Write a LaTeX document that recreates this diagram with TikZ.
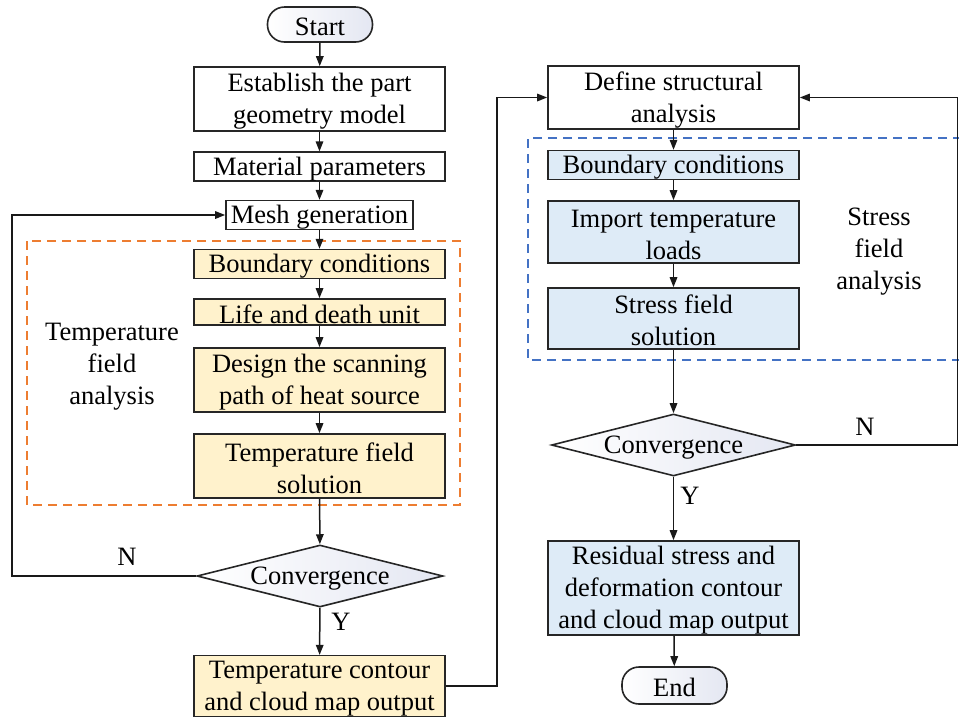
\documentclass[tikz,border=0pt]{standalone}
\usepackage{fontspec}
\setmainfont{Liberation Serif}
\usetikzlibrary{shapes.geometric,arrows.meta}
\definecolor{yel}{RGB}{255,242,204}
\definecolor{blu}{RGB}{222,235,247}
\definecolor{ora}{RGB}{237,125,49}
\definecolor{bdash}{RGB}{68,114,196}
\definecolor{term}{RGB}{228,231,242}
\newcommand{\fstrut}{\rule{0pt}{23pt}}
\tikzset{
  base/.style={draw=black!85, line width=1.6pt, inner sep=0pt, align=center,
    font=\fontsize{26.5}{32}\selectfont},
  plainbox/.style={base, rectangle, fill=white, minimum width=251pt},
  yelbox/.style={base, rectangle, fill=yel, minimum width=251pt},
  blubox/.style={base, rectangle, fill=blu, minimum width=251pt},
  termbox/.style={base, rectangle, rounded corners=17pt, minimum width=105pt,
    left color=white, right color=term},
  decis/.style={base, diamond, aspect=4, minimum width=246pt, minimum height=62pt,
    left color=white, right color=term},
  conn/.style={line width=1.5pt, draw=black!90, -{Triangle[length=10pt,width=7.5pt]}},
  lbl/.style={font=\fontsize{26.5}{32}\selectfont, align=center, inner sep=0pt},
  grp/.style={line width=1.4pt, dash pattern=on 9pt off 6pt},
}
\begin{document}
\begin{tikzpicture}[x=1pt,y=-1pt]
\useasboundingbox (0,0) rectangle (959,716);
% group frames
\draw[grp, draw=ora] (27,241) rectangle (460,505);
\draw[grp, draw=bdash] (962,138) -- (528,138) -- (528,360) -- (962,360);
% left column
\node[termbox, minimum height=35pt] (start) at (320,24.5) {\fstrut Start};
\node[plainbox, minimum height=64pt] (geo) at (319.5,99) {\fstrut Establish the part\\geometry model};
\node[plainbox, minimum height=25pt] (mat) at (319.5,166.5) {\fstrut Material parameters};
\node[base, fill=white, minimum width=187pt, minimum height=26pt] (mesh) at (319.5,215) {\fstrut Mesh generation};
\node[yelbox, minimum height=26pt] (bc1) at (319.5,264) {\fstrut Boundary conditions};
\node[yelbox, minimum height=26pt] (life) at (319.5,312) {\fstrut Life and death unit};
\node[yelbox, minimum height=64pt] (design) at (319.5,380) {\fstrut Design the scanning\\path of heat source};
\node[yelbox, minimum height=64pt] (tsol) at (319.5,466) {\fstrut Temperature field\\solution};
\node[decis] (d1) at (320,576) {};
\node[lbl] (d1t) at (320,578.5) {Convergence};
\node[yelbox, minimum height=60pt] (tout) at (319.5,686) {\fstrut Temperature contour\\and cloud map output};
\node[lbl] (tfa) at (112,366.5) {Temperature\\field\\analysis};
% right column
\node[plainbox, minimum height=63pt] (define) at (673.5,97.5) {\fstrut Define structural\\analysis};
\node[blubox, minimum height=24pt] (bc2) at (673.5,165) {\fstrut Boundary conditions};
\node[blubox, minimum height=62pt] (import) at (673.5,232) {\fstrut Import temperature\\loads};
\node[blubox, minimum height=61pt] (ssol) at (673.5,318.5) {\fstrut Stress field\\solution};
\node[decis, minimum width=244pt] (d2) at (673.5,445) {};
\node[lbl] (d2t) at (673.5,447.5) {Convergence};
\node[blubox, minimum height=94pt] (resid) at (673.5,588) {\fstrut Residual stress and\\deformation contour\\and cloud map output};
\node[termbox, minimum height=37pt] (end) at (674.5,685.5) {\fstrut End};
\node[lbl] (sfa) at (879,252) {Stress\\field\\analysis};
% connectors left
\draw[conn] (start) -- (geo);
\draw[conn] (geo) -- (mat);
\draw[conn] (mat) -- (mesh);
\draw[conn] (mesh) -- (bc1);
\draw[conn] (bc1) -- (life);
\draw[conn] (life) -- (design);
\draw[conn] (design) -- (tsol);
\draw[conn] (tsol) -- (d1);
\draw[conn] (d1) -- (tout);
\node[lbl] (y1) at (341,622) {Y};
\coordinate (lb) at (12,576);
\draw[conn] (d1.west) -- (lb) |- (mesh.west);
\node[lbl] (n1) at (127,557) {N};
% transfer
\coordinate (tr) at (497,686);
\draw[conn] (tout.east) -- (tr) |- (define.west);
% connectors right
\draw[conn] (define) -- (bc2);
\draw[conn] (bc2) -- (import);
\draw[conn] (import) -- (ssol);
\draw[conn] (ssol) -- (d2);
\draw[conn] (d2) -- (resid);
\node[lbl] (y2) at (690,496) {Y};
\draw[conn] (resid) -- (end);
\coordinate (rb) at (957.5,445);
\draw[conn] (d2.east) -- (rb) |- (define.east);
\node[lbl] (n2) at (865,427) {N};
\end{tikzpicture}
\end{document}
